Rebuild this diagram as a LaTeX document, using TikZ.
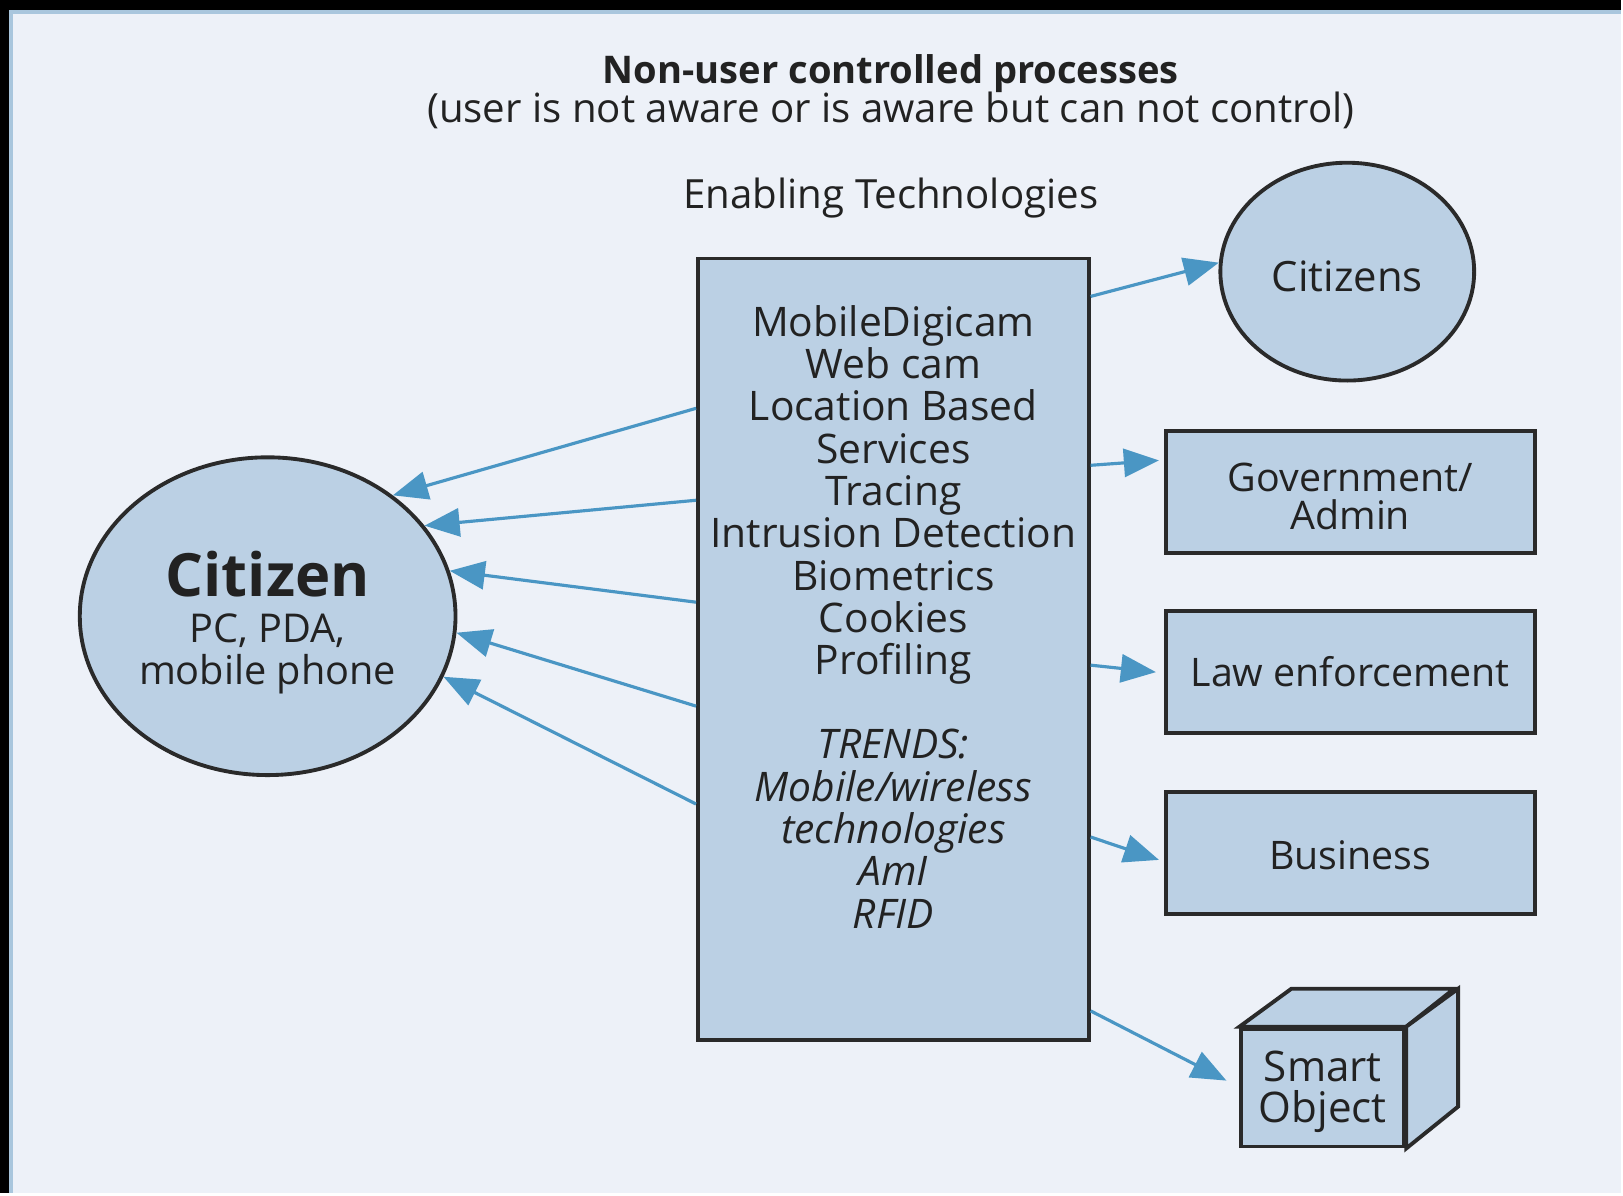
\documentclass[tikz,border=0pt]{standalone}
\usepackage{fontspec}
\setmainfont{Open Sans}
\usetikzlibrary{arrows.meta,positioning,shapes.geometric}

\definecolor{pagebg}{HTML}{EDF1F8}
\definecolor{rimblue}{HTML}{A9C6DD}
\definecolor{boxblue}{HTML}{BBD0E4}
\definecolor{flowblue}{HTML}{4A96C4}
\definecolor{edgegray}{HTML}{2A2A2A}
\definecolor{inkgray}{HTML}{222222}

\begin{document}
\begin{tikzpicture}[%
    x=0.01cm, y=-0.01cm,
    >={Triangle[length=10pt,width=8pt]},
    flow/.style={->, color=flowblue, line width=0.9pt},
    entity/.style={draw=edgegray, fill=boxblue, line width=1.1pt, inner sep=0pt, align=center, text=inkgray},
    party/.style={entity, rectangle, minimum width=3.69cm, minimum height=1.22cm, font=\fontsize{11.2}{11}\selectfont},
    person/.style={entity, ellipse},
    caption/.style={inner sep=0pt, text=inkgray, anchor=base}
    ]

    % frame
    \fill[black] (0,0) rectangle (1623,1195);
    \fill[pagebg] (9,10) rectangle (1623,1195);
    \draw[rimblue, line width=1.2pt] (11,1195) -- (11,12) -- (1623,12);

    % headings
    \node[caption, font=\bfseries\fontsize{10.85}{12}\selectfont] (title) at (892,84) {Non-user controlled processes};
    \node[caption, font=\fontsize{11.45}{12}\selectfont] (subtitle) at (892,123) {(user is not aware or is aware but can not control)};
    \node[caption, font=\fontsize{11.45}{12}\selectfont] (techlabel) at (892,209) {Enabling Technologies};

    % central block
    \node[entity, rectangle, minimum width=3.91cm, minimum height=7.82cm] (tech) at (894.5,650) {};
    \node[inner sep=0pt, align=center, text=inkgray, font=\fontsize{11.6}{12.05}\selectfont,
          below=0.48cm of tech.north] (techlist)
        {MobileDigicam\\Web cam\\Location Based\\Services\\Tracing\\Intrusion Detection\\Biometrics\\Cookies\\Profiling\\[0.42cm]
         \textit{TRENDS:}\\\textit{Mobile/wireless}\\\textit{technologies}\\\textit{AmI}\\\textit{RFID}};

    % citizen and the parties
    \node[person, minimum width=3.76cm, minimum height=3.18cm, font=\fontsize{11.3}{11.8}\selectfont] (citizen) at (268,617)
        {\rule{0pt}{16.6pt}{\bfseries\fontsize{17}{18}\selectfont Citizen}\\[1.3pt]PC, PDA,\\mobile phone};
    \node[person, minimum width=2.54cm, minimum height=2.18cm, text height=11.5pt, text depth=0pt,
          font=\fontsize{11.9}{12}\selectfont] (citizens) at (1349,272) {Citizens};
    \node[party] (gov) at (1352,493) {\rule{0pt}{10.4pt}Government/\\Admin};
    \node[party] (law) at (1352,673) {Law enforcement};
    \node[party] (business) at (1352,854) {\rule{0pt}{9.5pt}Business};

    % smart object
    \node[entity, rectangle, minimum width=1.63cm, minimum height=1.18cm, font=\fontsize{12}{11.7}\selectfont] (smart) at (1324.5,1089) {\rule{0pt}{11pt}Smart\\Object};
    \filldraw[entity] (smart.north west) -- ++(52,-38) -- ++(163,0) -- (smart.north east) -- cycle;
    \filldraw[entity] (smart.north east) -- ++(52,-38) -- ++(0,118) -- (smart.south east) -- cycle;

    % flows to the citizen
    \path[flow] ([yshift=2.41cm]tech.west) edge (citizen.44);
    \path[flow] ([yshift=1.49cm]tech.west) edge (citizen.30);
    \path[flow] ([yshift=0.47cm]tech.west) edge (citizen.14);
    \path[flow] ([yshift=-0.57cm]tech.west) edge (citizen.-5);
    \path[flow] ([yshift=-1.55cm]tech.west) edge (citizen.-19);

    % flows to the parties
    \path[flow] ([yshift=3.53cm]tech.east) edge (citizens.176);
    \path[flow] ([yshift=1.84cm]tech.east) edge ([xshift=-0.05cm,yshift=0.32cm]gov.west);
    \path[flow] ([yshift=-0.16cm]tech.east) edge ([xshift=-0.08cm]law.west);
    \path[flow] ([yshift=-1.88cm]tech.east) edge ([xshift=-0.05cm,yshift=-0.07cm]business.west);
    \path[flow] ([yshift=-3.62cm]tech.east) edge ([xshift=-0.13cm,yshift=0.07cm]smart.west);

\end{tikzpicture}
\end{document}
